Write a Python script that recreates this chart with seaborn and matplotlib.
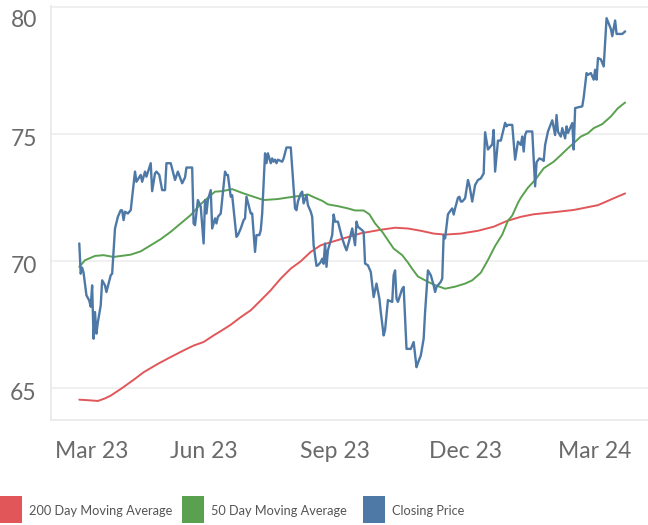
import pandas as pd
import matplotlib.pyplot as plt
import matplotlib.dates as mdates
import matplotlib.transforms as mtransforms
from matplotlib.patches import Rectangle
import seaborn as sns

# closing price
close_dates = [
    "2023-03-06", "2023-03-07", "2023-03-08", "2023-03-09", "2023-03-11", "2023-03-13", "2023-03-14",
    "2023-03-15", "2023-03-16", "2023-03-17", "2023-03-18", "2023-03-19", "2023-03-21", "2023-03-22",
    "2023-03-24", "2023-03-25", "2023-03-28", "2023-03-29", "2023-03-31", "2023-04-02", "2023-04-04",
    "2023-04-05", "2023-04-06", "2023-04-07", "2023-04-09", "2023-04-11", "2023-04-14", "2023-04-15",
    "2023-04-18", "2023-04-19", "2023-04-21", "2023-04-22", "2023-04-25", "2023-04-26", "2023-04-28",
    "2023-04-29", "2023-05-01", "2023-05-03", "2023-05-05", "2023-05-06", "2023-05-09", "2023-05-12",
    "2023-05-14", "2023-05-17", "2023-05-19", "2023-05-20", "2023-05-23", "2023-05-24", "2023-05-25",
    "2023-05-26", "2023-05-28", "2023-05-30", "2023-06-01", "2023-06-02", "2023-06-03", "2023-06-04",
    "2023-06-06", "2023-06-07", "2023-06-09", "2023-06-10", "2023-06-11", "2023-06-13", "2023-06-16",
    "2023-06-17", "2023-06-18", "2023-06-20", "2023-06-21", "2023-06-24", "2023-06-25", "2023-06-27",
    "2023-06-29", "2023-06-30", "2023-07-01", "2023-07-04", "2023-07-05", "2023-07-07", "2023-07-08",
    "2023-07-10", "2023-07-11", "2023-07-12", "2023-07-14", "2023-07-15", "2023-07-16", "2023-07-18",
    "2023-07-19", "2023-07-20", "2023-07-21", "2023-07-22", "2023-07-23", "2023-07-26", "2023-07-27",
    "2023-07-29", "2023-08-01", "2023-08-04", "2023-08-05", "2023-08-06", "2023-08-08", "2023-08-09",
    "2023-08-10", "2023-08-12", "2023-08-13", "2023-08-15", "2023-08-16", "2023-08-17", "2023-08-19",
    "2023-08-20", "2023-08-22", "2023-08-23", "2023-08-24", "2023-08-25", "2023-08-26", "2023-08-27",
    "2023-08-29", "2023-08-30", "2023-08-31", "2023-09-01", "2023-09-03", "2023-09-06", "2023-09-08",
    "2023-09-09", "2023-09-11", "2023-09-13", "2023-09-15", "2023-09-16", "2023-09-17", "2023-09-20",
    "2023-09-21", "2023-09-22", "2023-09-24", "2023-09-26", "2023-09-28", "2023-09-30", "2023-10-02",
    "2023-10-03", "2023-10-05", "2023-10-06", "2023-10-08", "2023-10-11", "2023-10-12", "2023-10-13",
    "2023-10-14", "2023-10-15", "2023-10-18", "2023-10-19", "2023-10-21", "2023-10-24", "2023-10-26",
    "2023-10-28", "2023-10-29", "2023-10-31", "2023-11-02", "2023-11-03", "2023-11-05", "2023-11-07",
    "2023-11-09", "2023-11-10", "2023-11-11", "2023-11-14", "2023-11-15", "2023-11-16", "2023-11-17",
    "2023-11-19", "2023-11-21", "2023-11-22", "2023-11-23", "2023-11-24", "2023-11-26", "2023-11-27",
    "2023-11-28", "2023-11-29", "2023-12-01", "2023-12-03", "2023-12-04", "2023-12-06", "2023-12-08",
    "2023-12-10", "2023-12-12", "2023-12-14", "2023-12-15", "2023-12-17", "2023-12-20", "2023-12-21",
    "2023-12-22", "2023-12-24", "2023-12-26", "2023-12-29", "2023-12-30", "2023-12-31", "2024-01-03",
    "2024-01-05", "2024-01-07", "2024-01-09", "2024-01-10", "2024-01-11", "2024-01-12", "2024-01-13",
    "2024-01-17", "2024-01-19", "2024-01-20", "2024-01-22", "2024-01-24", "2024-01-25", "2024-01-26",
    "2024-01-28", "2024-01-31", "2024-02-02", "2024-02-03", "2024-02-04", "2024-02-06", "2024-02-07",
    "2024-02-09", "2024-02-10", "2024-02-11", "2024-02-14", "2024-02-15", "2024-02-16", "2024-02-18",
    "2024-02-21", "2024-02-22", "2024-02-24", "2024-02-25", "2024-02-27", "2024-02-29", "2024-03-01",
    "2024-03-02", "2024-03-03", "2024-03-05", "2024-03-07", "2024-03-09", "2024-03-12", "2024-03-13",
    "2024-03-15", "2024-03-16", "2024-03-20", "2024-03-22",
]
close_values = [
    70.70, 69.51, 69.75, 69.55, 68.66, 68.45, 68.21,
    69.05, 66.95, 68.00, 67.15, 67.60, 68.26, 69.25,
    69.05, 68.79, 69.45, 69.51, 71.29, 71.75, 72.01,
    72.00, 71.62, 71.95, 71.88, 72.01, 73.53, 73.13,
    73.40, 73.13, 73.53, 73.33, 73.86, 72.76, 73.46,
    73.53, 73.40, 72.80, 72.80, 73.86, 73.86, 73.20,
    73.53, 73.07, 73.30, 73.69, 73.69, 73.69, 71.49,
    71.42, 72.41, 72.15, 70.70, 72.41, 71.88, 72.41,
    72.80, 71.29, 71.69, 71.49, 71.75, 71.88, 73.53,
    73.40, 73.40, 72.54, 72.60, 70.96, 71.03, 71.29,
    71.62, 71.69, 72.54, 71.88, 71.88, 70.37, 71.03,
    71.03, 71.22, 71.88, 74.25, 73.86, 74.25, 73.86,
    74.05, 73.92, 74.00, 73.86, 74.00, 73.92, 74.05,
    74.48, 74.48, 72.08, 72.01, 72.35, 72.67, 72.74,
    72.28, 72.61, 72.21, 71.95, 71.75, 70.63, 69.82,
    69.84, 69.97, 70.10, 69.90, 70.70, 69.78, 70.43,
    70.83, 71.03, 71.84, 71.56, 71.56, 70.90, 70.57,
    70.43, 70.83, 71.29, 70.63, 71.56, 71.36, 71.22,
    71.16, 69.91, 69.84, 69.58, 68.59, 69.12, 68.53,
    68.00, 67.08, 67.30, 68.47, 68.40, 69.45, 69.64,
    68.53, 68.40, 68.92, 68.99, 66.55, 66.55, 66.82,
    65.83, 66.00, 66.29, 66.95, 68.00, 69.64, 69.45,
    69.05, 68.79, 68.99, 69.19, 69.32, 71.03, 70.90,
    71.85, 72.01, 72.08, 71.84, 72.08, 72.50, 72.54,
    72.35, 72.35, 72.48, 73.20, 73.00, 72.35, 73.00,
    73.20, 73.26, 73.46, 75.08, 74.40, 74.60, 75.17,
    73.53, 74.75, 74.75, 75.45, 75.31, 75.37, 75.37,
    74.00, 74.71, 74.58, 74.91, 74.32, 74.97, 75.11,
    75.11, 72.95, 73.90, 74.05, 74.00, 73.95, 74.58,
    75.11, 75.55, 74.97, 75.76, 75.10, 74.91, 75.24,
    74.84, 75.31, 75.05, 75.44, 74.40, 76.03, 76.06,
    76.10, 76.45, 77.41, 77.34, 77.41, 77.15, 77.54,
    77.15, 78.00, 77.95, 77.67, 79.57, 79.15, 78.86,
    79.48, 78.95, 78.95, 79.05,
]

# 50 day moving average
ma50_dates = [
    "2023-03-06", "2023-03-10", "2023-03-17", "2023-03-23", "2023-03-30", "2023-04-11", "2023-04-18",
    "2023-04-25", "2023-05-02", "2023-05-09", "2023-05-16", "2023-05-23", "2023-05-30", "2023-06-06",
    "2023-06-09", "2023-06-14", "2023-06-21", "2023-06-29", "2023-07-06", "2023-07-13", "2023-07-23",
    "2023-07-30", "2023-08-08", "2023-08-13", "2023-08-18", "2023-08-23", "2023-08-27", "2023-09-03",
    "2023-09-10", "2023-09-15", "2023-09-21", "2023-09-25", "2023-09-29", "2023-10-04", "2023-10-08",
    "2023-10-12", "2023-10-18", "2023-10-22", "2023-10-25", "2023-10-29", "2023-11-05", "2023-11-10",
    "2023-11-17", "2023-11-24", "2023-12-01", "2023-12-06", "2023-12-12", "2023-12-17", "2023-12-22",
    "2023-12-27", "2023-12-31", "2024-01-03", "2024-01-07", "2024-01-09", "2024-01-14", "2024-01-19",
    "2024-01-25", "2024-02-01", "2024-02-06", "2024-02-11", "2024-02-15", "2024-02-20", "2024-02-25",
    "2024-02-29", "2024-03-06", "2024-03-12", "2024-03-17", "2024-03-22",
]
ma50_values = [
    69.78, 70.04, 70.21, 70.24, 70.17, 70.26, 70.39,
    70.63, 70.87, 71.16, 71.49, 71.82, 72.25, 72.60,
    72.74, 72.76, 72.84, 72.67, 72.54, 72.41, 72.45,
    72.51, 72.58, 72.63, 72.50, 72.38, 72.24, 72.17,
    72.08, 72.00, 72.00, 71.85, 71.49, 71.16, 70.83,
    70.50, 70.24, 69.95, 69.70, 69.40, 69.19, 69.06,
    68.92, 69.00, 69.12, 69.25, 69.55, 70.05, 70.60,
    71.05, 71.60, 71.80, 72.30, 72.50, 72.90, 73.20,
    73.66, 73.92, 74.18, 74.45, 74.65, 74.91, 75.04,
    75.24, 75.40, 75.70, 76.03, 76.25,
]

# 200 day moving average
ma200_dates = [
    "2023-03-06", "2023-03-12", "2023-03-19", "2023-03-24", "2023-03-28", "2023-04-04", "2023-04-13",
    "2023-04-20", "2023-04-30", "2023-05-09", "2023-05-18", "2023-05-25", "2023-06-01", "2023-06-08",
    "2023-06-13", "2023-06-20", "2023-06-27", "2023-07-04", "2023-07-11", "2023-07-18", "2023-07-25",
    "2023-08-01", "2023-08-08", "2023-08-15", "2023-08-22", "2023-08-29", "2023-09-08", "2023-09-19",
    "2023-10-03", "2023-10-13", "2023-10-22", "2023-10-31", "2023-11-09", "2023-11-17", "2023-11-28",
    "2023-12-10", "2023-12-21", "2023-12-30", "2024-01-09", "2024-01-18", "2024-02-01", "2024-02-15",
    "2024-02-25", "2024-03-03", "2024-03-10", "2024-03-14", "2024-03-22",
]
ma200_values = [
    64.55, 64.53, 64.50, 64.60, 64.71, 64.97, 65.33,
    65.63, 65.96, 66.23, 66.49, 66.68, 66.82, 67.08,
    67.25, 67.50, 67.80, 68.07, 68.46, 68.86, 69.32,
    69.71, 70.00, 70.37, 70.63, 70.75, 70.92, 71.10,
    71.24, 71.32, 71.29, 71.20, 71.09, 71.05, 71.09,
    71.20, 71.36, 71.58, 71.75, 71.85, 71.93, 72.02,
    72.13, 72.21, 72.38, 72.48, 72.67,
]

series_names = ["200 Day Moving Average", "50 Day Moving Average", "Closing Price"]
series_colors = ["#e15759", "#59a14f", "#4e79a7"]
y_ticks = [65, 70, 75, 80]

sns.set_theme(style="white")
plt.rcParams["font.family"] = ["Lato", "DejaVu Sans"]

fig = plt.figure(figsize=(6.48, 5.25), dpi=100)
ax = fig.add_axes([50.7 / 648, 105 / 525, 597.3 / 648, 414 / 525])

ma200 = pd.DataFrame({"date": pd.to_datetime(ma200_dates), "value": ma200_values})
ma50 = pd.DataFrame({"date": pd.to_datetime(ma50_dates), "value": ma50_values})
close = pd.DataFrame({"date": pd.to_datetime(close_dates), "value": close_values})

sns.lineplot(data=ma200, x="date", y="value", color=series_colors[0], linewidth=1.4, ax=ax)
sns.lineplot(data=ma50, x="date", y="value", color=series_colors[1], linewidth=1.4, ax=ax)
sns.lineplot(data=close, x="date", y="value", color=series_colors[2], linewidth=1.7, ax=ax)

ax.set_xlim(pd.Timestamp("2023-02-14"), pd.Timestamp("2024-04-07"))
ax.set_ylim(63.75, 80.05)
ax.set_xlabel("")
ax.set_ylabel("")
ax.set_yticks(y_ticks)

ax.xaxis.set_major_locator(mdates.MonthLocator(bymonth=[3, 6, 9, 12]))
ax.xaxis.set_minor_locator(mdates.MonthLocator())
ax.xaxis.set_major_formatter(mdates.DateFormatter("%b %y"))

ax.yaxis.grid(True, color="#efefef", linewidth=1.3)
ax.xaxis.grid(False)
for side in ["top", "right"]:
    ax.spines[side].set_visible(False)
for side in ["left", "bottom"]:
    ax.spines[side].set_color("#e8e8e8")
    ax.spines[side].set_linewidth(1.2)

ax.tick_params(axis="y", length=6, width=1.2, color="#e8e8e8", pad=4,
               labelsize=16.5, labelcolor="#6a6a6a")
ax.tick_params(axis="x", which="both", length=7, width=1.2, color="#e8e8e8", pad=8,
               labelsize=16.5, labelcolor="#6a6a6a")

# nudge labels the way the original lays them out
fig.canvas.draw()
for tick in ax.xaxis.get_major_ticks():
    if tick.label1.get_text() == "Mar 23":
        tick.label1.set_transform(tick.label1.get_transform() +
                                  mtransforms.ScaledTranslation(20 / 100, 0, fig.dpi_scale_trans))
for tick in ax.yaxis.get_major_ticks():
    shift = -11 if tick.label1.get_text() == "80" else -3
    tick.label1.set_transform(tick.label1.get_transform() +
                              mtransforms.ScaledTranslation(0, shift / 100, fig.dpi_scale_trans))

# legend along the bottom
legend_x = [0, 182, 363]
for name, color, x0 in zip(series_names, series_colors, legend_x):
    fig.add_artist(Rectangle((x0 / 648, 2 / 525), 22 / 648, 27 / 525,
                             transform=fig.transFigure, color=color, lw=0))
    fig.text((x0 + 29) / 648, 1 - 511 / 525, name, va="center", ha="left",
             fontsize=9.2, color="#555555")

fig.savefig("out.png", dpi=100)
